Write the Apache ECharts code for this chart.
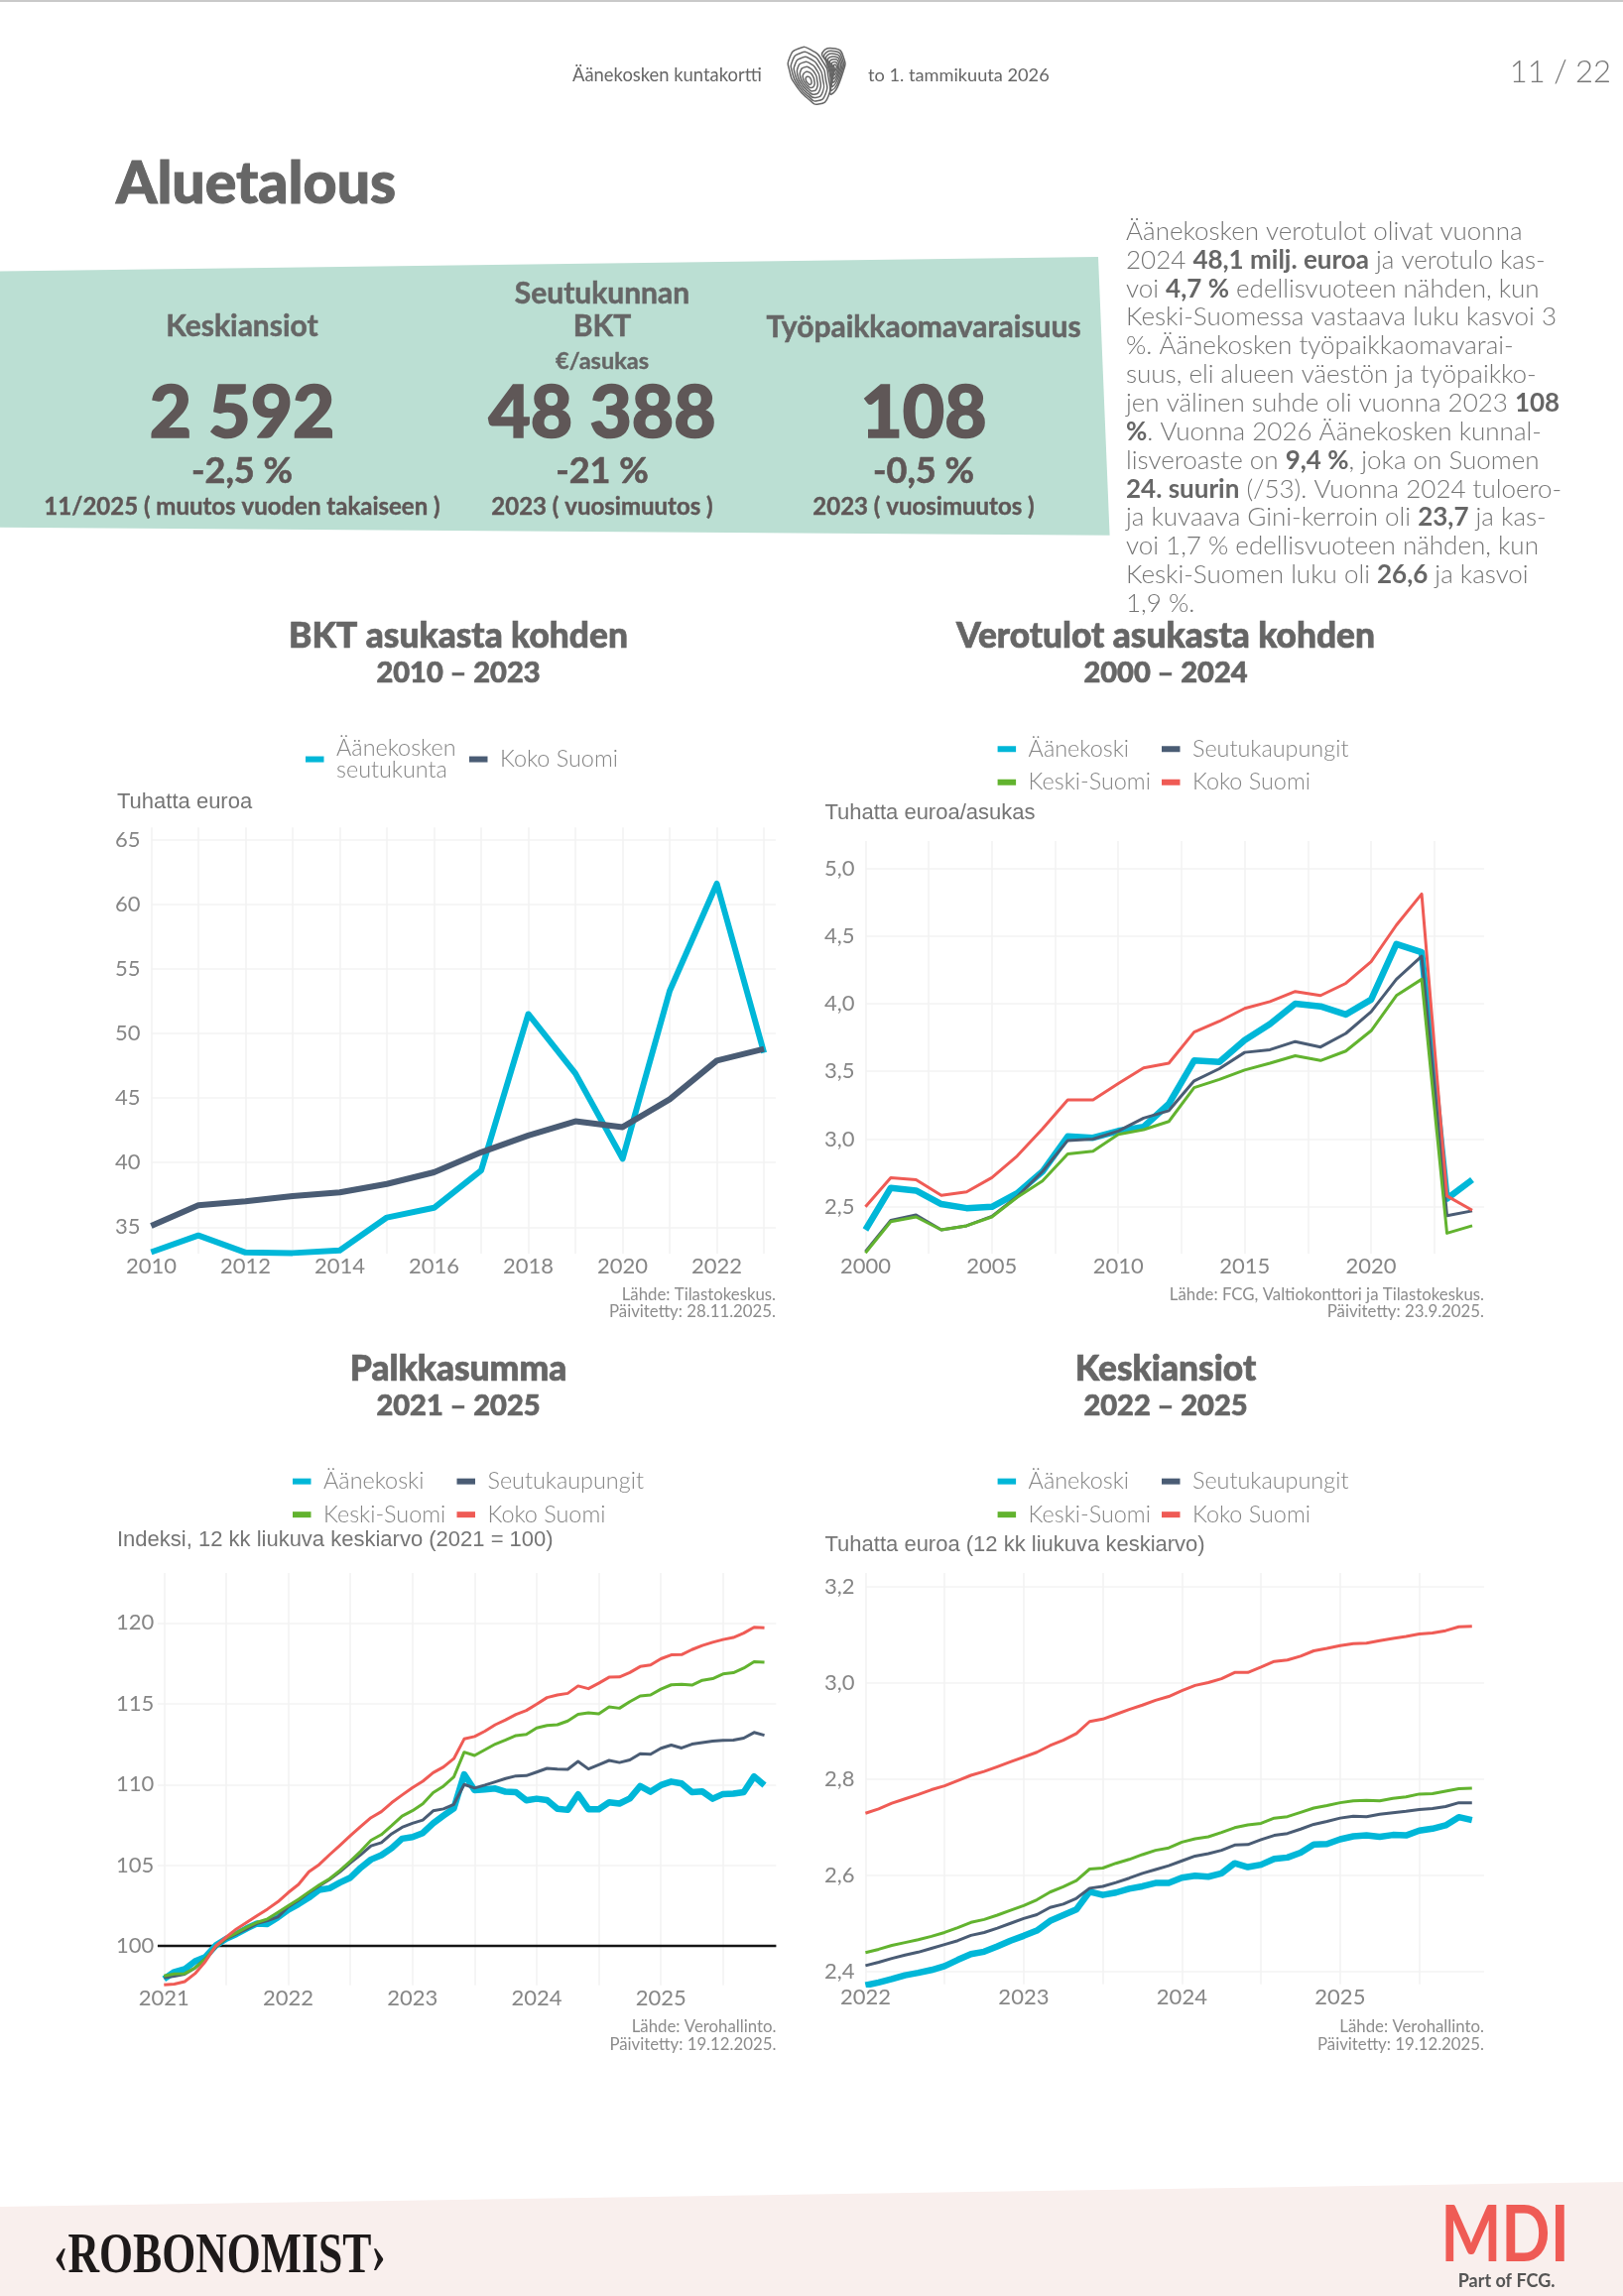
<!DOCTYPE html>
<html><head><meta charset="utf-8">
<style>html,body{margin:0;padding:0;background:#fff}#c{width:1636px;height:2315px}</style>
<script src="https://cdn.jsdelivr.net/npm/echarts@6/dist/echarts.min.js"></script>
</head><body><div id="c"></div>
<script>
// ---- Chart 1: BKT asukasta kohden ----
const bktYears=[2010,2011,2012,2013,2014,2015,2016,2017,2018,2019,2020,2021,2022,2023];
const bktAanekoski=[33.07,34.36,33.04,33.0,33.2,35.75,36.5,39.4,51.5,46.9,40.3,53.3,61.6,48.5];
const bktSuomi=[35.1,36.7,37.0,37.4,37.7,38.35,39.25,40.8,42.1,43.2,42.75,44.9,47.9,48.8];
const bktXTicks=[2010,2011,2012,2013,2014,2015,2016,2017,2018,2019,2020,2021,2022,2023];
const bktXLabels=[2010,2012,2014,2016,2018,2020,2022];
const bktYTicks=[35,40,45,50,55,60,65];
// ---- Chart 2: Verotulot ----
const veroYears=[2000,2001,2002,2003,2004,2005,2006,2007,2008,2009,2010,2011,2012,2013,2014,2015,2016,2017,2018,2019,2020,2021,2022,2023,2024];
const veroAanekoski=[2.33,2.64,2.62,2.52,2.49,2.50,2.60,2.76,3.02,3.01,3.06,3.09,3.26,3.58,3.57,3.73,3.85,4.0,3.98,3.92,4.03,4.44,4.38,2.56,2.70];
const veroSeutu=[2.17,2.40,2.44,2.33,2.36,2.43,2.575,2.76,2.99,3.0,3.06,3.155,3.21,3.43,3.52,3.64,3.66,3.72,3.68,3.78,3.94,4.18,4.35,2.435,2.47];
const veroKeski=[2.16,2.39,2.425,2.33,2.36,2.425,2.57,2.69,2.89,2.91,3.035,3.07,3.13,3.38,3.44,3.51,3.56,3.615,3.58,3.65,3.80,4.06,4.18,2.305,2.36];
const veroSuomi=[2.5,2.715,2.70,2.585,2.61,2.715,2.875,3.075,3.29,3.29,3.41,3.525,3.56,3.79,3.87,3.965,4.015,4.09,4.06,4.15,4.31,4.58,4.81,2.58,2.475];
const veroXTicks=[2000,2002.5,2005,2007.5,2010,2012.5,2015,2017.5,2020,2022.5];
const veroXLabels=[2000,2005,2010,2015,2020];
const veroYTicks=[2.5,3,3.5,4,4.5,5];
// ---- Chart 3: Palkkasumma (kuukausittain 2021-01 ... 2025-11) ----
const palkkaAanekoski=[97.96,98.4,98.57,99.06,99.33,100.04,100.45,100.75,101.1,101.4,101.37,101.78,102.25,102.6,103.0,103.48,103.58,103.93,104.23,104.85,105.36,105.63,106.07,106.65,106.75,107.0,107.6,108.08,108.53,110.63,109.65,109.7,109.75,109.55,109.53,109.02,109.12,109.04,108.5,108.43,109.39,108.47,108.47,108.9,108.82,109.14,109.9,109.55,109.96,110.18,110.06,109.53,109.57,109.12,109.41,109.43,109.53,110.5,109.96];
const palkkaSeutu=[98.04,98.14,98.26,98.65,99.22,99.94,100.45,100.76,101.06,101.4,101.57,101.8,102.43,102.84,103.31,103.72,104.13,104.6,105.15,105.65,106.2,106.4,106.95,107.35,107.6,107.8,108.37,108.49,108.77,110.0,109.78,109.96,110.16,110.37,110.53,110.55,110.77,111.0,110.96,110.94,111.43,110.96,111.22,111.49,111.36,111.52,111.9,111.87,112.24,112.44,112.26,112.5,112.6,112.69,112.73,112.75,112.87,113.22,113.05];
const palkkaKeski=[98.16,98.28,98.3,98.65,99.2,99.98,100.5,100.82,101.17,101.47,101.68,102.09,102.5,102.9,103.35,103.78,104.17,104.68,105.25,105.87,106.55,106.9,107.46,108.05,108.38,108.8,109.5,109.9,110.47,112.0,111.8,112.15,112.5,112.75,113.03,113.1,113.5,113.65,113.7,113.93,114.34,114.44,114.37,114.8,114.72,115.13,115.48,115.54,115.9,116.17,116.2,116.15,116.45,116.55,116.84,116.92,117.2,117.6,117.56];
const palkkaSuomi=[97.6,97.65,97.8,98.3,99.05,100.0,100.55,101.06,101.47,101.88,102.29,102.74,103.31,103.82,104.6,105.05,105.66,106.24,106.83,107.4,107.95,108.32,108.88,109.35,109.8,110.2,110.73,111.08,111.6,112.82,112.97,113.3,113.7,114.0,114.34,114.58,114.97,115.38,115.54,115.64,116.1,115.93,116.27,116.64,116.66,116.93,117.3,117.4,117.78,118.02,118.04,118.35,118.6,118.8,118.97,119.1,119.37,119.73,119.7];
const palkkaXTicks=[2021,2021.5,2022,2022.5,2023,2023.5,2024,2024.5,2025,2025.5];
const palkkaXLabels=[2021,2022,2023,2024,2025];
const palkkaYTicks=[100,105,110,115,120];
// ---- Chart 4: Keskiansiot (kuukausittain 2022-01 ... 2025-11) ----
const ansioAanekoski=[2.371,2.377,2.384,2.392,2.397,2.403,2.411,2.424,2.436,2.441,2.452,2.464,2.474,2.485,2.505,2.517,2.529,2.566,2.559,2.564,2.572,2.577,2.584,2.584,2.595,2.599,2.597,2.604,2.625,2.617,2.622,2.634,2.637,2.647,2.664,2.665,2.675,2.681,2.683,2.68,2.684,2.683,2.693,2.697,2.704,2.721,2.715];
const ansioSeutu=[2.412,2.419,2.427,2.434,2.44,2.448,2.456,2.464,2.475,2.481,2.49,2.5,2.51,2.518,2.533,2.54,2.552,2.573,2.577,2.585,2.594,2.604,2.612,2.62,2.63,2.64,2.645,2.652,2.663,2.664,2.674,2.683,2.687,2.696,2.706,2.712,2.719,2.723,2.722,2.727,2.73,2.733,2.737,2.739,2.743,2.751,2.751];
const ansioKeski=[2.439,2.446,2.454,2.46,2.466,2.473,2.481,2.491,2.502,2.508,2.517,2.527,2.537,2.549,2.565,2.576,2.589,2.613,2.615,2.625,2.633,2.643,2.652,2.657,2.669,2.676,2.68,2.689,2.699,2.705,2.708,2.719,2.722,2.731,2.74,2.745,2.751,2.755,2.756,2.755,2.76,2.763,2.769,2.77,2.775,2.78,2.781];
const ansioSuomi=[2.729,2.738,2.75,2.759,2.768,2.778,2.786,2.797,2.808,2.816,2.826,2.836,2.846,2.856,2.87,2.881,2.895,2.92,2.925,2.935,2.945,2.954,2.964,2.972,2.984,2.995,3.001,3.009,3.022,3.022,3.033,3.045,3.048,3.056,3.067,3.072,3.078,3.082,3.083,3.088,3.093,3.097,3.102,3.104,3.109,3.117,3.118];
const ansioXTicks=[2022,2022.5,2023,2023.5,2024,2024.5,2025,2025.5];
const ansioXLabels=[2022,2023,2024,2025];
const ansioYTicks=[2.4,2.6,2.8,3.0,3.2];
// ---- Tekstit ----
const names={a:'Äänekoski',s:'Seutukaupungit',k:'Keski-Suomi',f:'Koko Suomi'};
const kpiTitles=['Keskiansiot','Työpaikkaomavaraisuus'];
const kpiValues=['2 592','48 388','108'];
const kpiChanges=['-2,5 %','-21 %','-0,5 %'];
const kpiNotes=['11/2025 ( muutos vuoden takaiseen )','2023 ( vuosimuutos )','2023 ( vuosimuutos )'];
const paragraph=['Äänekosken verotulot olivat vuonna','2024 {b|48,1 milj. euroa} ja verotulo kas-','voi {b|4,7 %} edellisvuoteen nähden, kun','Keski-Suomessa vastaava luku kasvoi 3','%. Äänekosken työpaikkaomavarai-','suus, eli alueen väestön ja työpaikko-','jen välinen suhde oli vuonna 2023 {b|108}','{b|%}. Vuonna 2026 Äänekosken kunnal-','lisveroaste on {b|9,4 %}, joka on Suomen','{b|24. suurin} (/53). Vuonna 2024 tuloero-','ja kuvaava Gini-kerroin oli {b|23,7} ja kas-','voi 1,7 % edellisvuoteen nähden, kun','Keski-Suomen luku oli {b|26,6} ja kasvoi','1,9 %.'];

const COL={a:'#00b7d8',s:'#4a5c74',k:'#62b32f',f:'#ef5b55'};
const SANS='Lato', AX='#868686', GRID='#f3f3f3';
const el=document.getElementById('c');
const chart=echarts.init(el,null,{width:1636,height:2315});
const grids=[],xAxes=[],yAxes=[],series=[],legends=[],titles=[],graphics=[];

function T(x,y,text,size,weight,fill,align,family,extra){
  graphics.push(Object.assign({type:'text',silent:true,z:10,style:Object.assign({x,y,text,fontSize:size,fontWeight:weight,fill,align:align||'left',verticalAlign:'middle',fontFamily:family||SANS},extra&&extra.style||{})},extra&&extra.el||{}));
}
function B(w,c){return {style:{stroke:c,lineWidth:w}};}
function leg(name,color,x,cy){
  const lines=name.split('\n').length;
  legends.push({selectedMode:false,left:x,top:cy-11.25*lines,itemWidth:18.5,itemHeight:6,padding:0,
    data:[{name,icon:'rect',itemStyle:{color,borderWidth:0},lineStyle:{opacity:0}}],
    textStyle:{color:'#848484',fontFamily:SANS,fontWeight:300,fontSize:23.4,lineHeight:22.5,padding:[0,0,0,7.5]}});
}
function panel(cfg){
  const idx=grids.length;
  grids.push({left:cfg.box[0],top:cfg.box[1],width:cfg.box[2]-cfg.box[0],height:cfg.box[3]-cfg.box[1],containLabel:false});
  xAxes.push({gridIndex:idx,type:'value',min:cfg.xr[0],max:cfg.xr[1],
    axisLine:{show:false},axisTick:{show:false,customValues:cfg.xt},
    axisLabel:{customValues:cfg.xl,color:AX,fontFamily:SANS,fontWeight:400,fontSize:22,margin:2,formatter:v=>String(v),showMinLabel:true,hideOverlap:false},
    splitLine:{show:true,lineStyle:{color:GRID,width:1.6}}});
  yAxes.push({gridIndex:idx,type:'value',min:cfg.yr[0],max:cfg.yr[1],
    axisLine:{show:false},axisTick:{show:false,customValues:cfg.yt},
    axisLabel:{customValues:cfg.yt,color:AX,fontFamily:SANS,fontWeight:400,fontSize:22,margin:cfg.ym,formatter:cfg.yf||(v=>String(v)),hideOverlap:false},
    splitLine:{show:true,lineStyle:{color:GRID,width:1.6}}});
  cfg.s.forEach((s,i)=>{
    const o={type:'line',name:s.name,xAxisIndex:idx,yAxisIndex:idx,showSymbol:false,symbol:'none',silent:true,animation:false,clip:true,
      lineStyle:{color:s.color,width:s.width,join:'round',cap:'butt'},itemStyle:{color:s.color},
      data:s.x.map((x,j)=>[x,s.y[j]]),z:2+i};
    if(cfg.black!==undefined&&i===0){o.markLine={silent:true,symbol:'none',animation:false,z:1,label:{show:false},lineStyle:{color:'#151515',width:2.4,type:'solid'},data:[{yAxis:cfg.black}]};}
    series.push(o);
  });
  titles.push({text:cfg.title,left:cfg.cx,top:cfg.ty-16.7,padding:0,textAlign:'center',textStyle:{fontFamily:SANS,fontWeight:900,fontSize:35.3,color:'#666666',lineHeight:36,textBorderColor:'#666666',textBorderWidth:0.7}});
  titles.push({text:cfg.sub,left:cfg.cx,top:cfg.ty+23.3,padding:0,textAlign:'center',textStyle:{fontFamily:SANS,fontWeight:900,fontSize:29,color:'#666666',lineHeight:30,textBorderColor:'#666666',textBorderWidth:0.7}});
  T(cfg.nx,cfg.ny,cfg.note,22,400,'#757575','left','Liberation Sans');
  T(cfg.box[2],cfg.src[0],cfg.srcText[0],16.8,400,'#8c8c8c','right');
  T(cfg.box[2],cfg.src[1],cfg.srcText[1],16.8,400,'#8c8c8c','right');
}
const comma=v=>v.toFixed(1).replace('.',',');
const m3=palkkaAanekoski.map((_,i)=>2021+i/12), m4=ansioAanekoski.map((_,i)=>2022+i/12);
panel({box:[152.4,834.2,782,1263.9],xr:[2010,2023.25],yr:[32.96,65.96],xt:bktXTicks,xl:bktXLabels,yt:bktYTicks,ym:11,cx:462,ty:640,
  title:'BKT asukasta kohden',sub:'2010 – 2023',nx:118,ny:808.5,note:'Tuhatta euroa',src:[1305.3,1323],srcText:['Lähde: Tilastokeskus.','Päivitetty: 28.11.2025.'],
  s:[{name:'Äänekosken\nseutukunta',color:COL.a,width:6,x:bktYears,y:bktAanekoski},{name:'Koko Suomi',color:COL.s,width:6,x:bktYears,y:bktSuomi}]});
panel({box:[872.4,848.1,1496,1263.9],xr:[2000,2024.47],yr:[2.155,5.2],xt:veroXTicks,xl:veroXLabels,yt:veroYTicks,yf:comma,ym:11,cx:1175,ty:640,
  title:'Verotulot asukasta kohden',sub:'2000 – 2024',nx:831.5,ny:820.2,note:'Tuhatta euroa/asukas',src:[1305.3,1323],srcText:['Lähde: FCG, Valtiokonttori ja Tilastokeskus.','Päivitetty: 23.9.2025.'],
  s:[{name:names.a,color:COL.a,width:6.5,x:veroYears,y:veroAanekoski},{name:names.s,color:COL.s,width:3,x:veroYears,y:veroSeutu},{name:names.k,color:COL.k,width:3,x:veroYears,y:veroKeski},{name:names.f,color:COL.f,width:3,x:veroYears,y:veroSuomi}]});
panel({box:[158.9,1586,782.4,2001.8],xr:[2020.949,2025.928],yr:[97.57,123.09],xt:palkkaXTicks,xl:palkkaXLabels,yt:palkkaYTicks,ym:3.7,black:100,cx:462,ty:1379,
  title:'Palkkasumma',sub:'2021 – 2025',nx:118,ny:1552.5,note:'Indeksi, 12 kk liukuva keskiarvo (2021 = 100)',src:[2043.7,2061.4],srcText:['Lähde: Verohallinto.','Päivitetty: 19.12.2025.'],
  s:[{name:names.a,color:COL.a,width:6.5,x:m3,y:palkkaAanekoski},{name:names.s,color:COL.s,width:3,x:m3,y:palkkaSeutu},{name:names.k,color:COL.k,width:3,x:m3,y:palkkaKeski},{name:names.f,color:COL.f,width:3,x:m3,y:palkkaSuomi}]});
panel({box:[872.4,1586,1496,2000.8],xr:[2022,2025.91],yr:[2.373,3.229],xt:ansioXTicks,xl:ansioXLabels,yt:ansioYTicks,yf:comma,ym:11,cx:1175,ty:1379,
  title:'Keskiansiot',sub:'2022 – 2025',nx:831.5,ny:1558.1,note:'Tuhatta euroa (12 kk liukuva keskiarvo)',src:[2043.7,2061.4],srcText:['Lähde: Verohallinto.','Päivitetty: 19.12.2025.'],
  s:[{name:names.a,color:COL.a,width:6.5,x:m4,y:ansioAanekoski},{name:names.s,color:COL.s,width:3,x:m4,y:ansioSeutu},{name:names.k,color:COL.k,width:3,x:m4,y:ansioKeski},{name:names.f,color:COL.f,width:3,x:m4,y:ansioSuomi}]});

leg('Äänekosken\nseutukunta',COL.a,308,765.3); leg('Koko Suomi',COL.s,473,765.3);
[[1005.6,1171,755,788.5],[295,460.5,1493.4,1526.9],[1005.6,1171,1493.4,1526.9]].forEach(r=>{
  leg(names.a,COL.a,r[0],r[2]);leg(names.s,COL.s,r[1],r[2]);leg(names.k,COL.k,r[0],r[3]);leg(names.f,COL.f,r[1],r[3]);
});

// ---- Sivun kehys ----
graphics.push({type:'rect',silent:true,z:0,shape:{x:0,y:0,width:1636,height:2},style:{fill:'#c9c9c9'}});
graphics.push({type:'polygon',silent:true,z:0,shape:{points:[[0,273.6],[1107,259],[1118.6,539.7],[0,531.8]]},style:{fill:'#bbdfd3'}});
graphics.push({type:'polygon',silent:true,z:0,shape:{points:[[0,2225],[1636,2200],[1636,2315],[0,2315]]},style:{fill:'#f9efed'}});
T(577,76.5,'Äänekosken kuntakortti',18.4,400,'#666');
T(875,76.5,'to 1. tammikuuta 2026',18.2,400,'#666');
T(1624,73,'11 / 22',31,300,'#777','right');
T(117,185.5,'Aluetalous',59,900,'#666','left',SANS,B(1,'#666'));
// sormenjälkisydän
[{c:[815,82],p:[[796,58],[805,49],[817,50],[830,63],[835,78],[835,97],[825,105],[815,100],[803,87],[796,72]]},
 {c:[842,68],p:[[829,53],[842,49],[850,57],[850,72],[838,95],[837,78],[833,63]]}].forEach(h=>{
  for(let k=0;k<7;k++){
    const f=1-k/7;
    graphics.push({type:'polygon',silent:true,z:5,shape:{smooth:0.6,points:h.p.map(q=>[h.c[0]+(q[0]-h.c[0])*f,h.c[1]+(q[1]-h.c[1])*f])},style:{fill:'none',stroke:'#666',lineWidth:1.5}});
  }
});
const DK='#5f5757',KT='#666';
T(244,329.5,kpiTitles[0],30,700,KT,'center',SANS,B(.5,KT));
T(607,296.5,'Seutukunnan',30,700,KT,'center',SANS,B(.5,KT));
T(607,329.5,'BKT',30,700,KT,'center',SANS,B(.5,KT));
T(607,364,'€/asukas',23.5,700,KT,'center',SANS,B(.4,KT));
T(931,330,kpiTitles[1],30,700,KT,'center',SANS,B(.5,KT));
[244,607,931].forEach((cx,i)=>{
  T(cx,417,kpiValues[i],73,900,DK,'center',SANS,B(1.6,DK));
  T(cx,475.5,kpiChanges[i],36,700,DK,'center',SANS,B(.6,DK));
  T(cx,511,kpiNotes[i],24,700,DK,'center',SANS,B(.4,DK));
});
paragraph.forEach((l,i)=>{
  T(1135,233.5+i*28.85,l,26,300,'#757575','left',SANS,{style:{rich:{b:{fontFamily:SANS,fontSize:26,fontWeight:700,fill:'#666'}}}});
});
// logot
T(0,0,'‹ROBONOMIST›',56,700,'#1e1a1a','left','Liberation Serif',{el:{x:54,y:2277,scaleX:0.78}});
T(0,0,'MDI',79,700,'#ef5b55','center',SANS,{el:{x:1517,y:2255,scaleX:0.82}});
T(1518.6,2300,'Part of FCG.',18,700,'#555','center');

chart.setOption({animation:false,backgroundColor:'#fff',title:titles,legend:legends,grid:grids,xAxis:xAxes,yAxis:yAxes,series,graphic:{elements:graphics}});
</script></body></html>
